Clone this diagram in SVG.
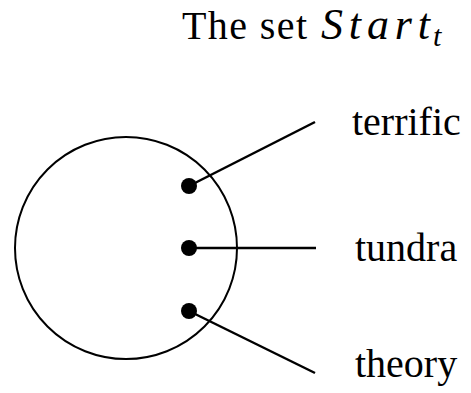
<svg xmlns="http://www.w3.org/2000/svg" width="471" height="393" viewBox="0 0 471 393">
<style>
.t{font-family:"Liberation Serif","Times New Roman",serif;font-size:40px;fill:#000}
.m{font-family:"Liberation Serif","Times New Roman",serif;font-style:italic;fill:#000}
.c{fill:none;stroke:#000;stroke-width:2}
.l{stroke:#000;stroke-width:2.5;fill:none}
.d{fill:#000}
</style>
<rect width="471" height="393" fill="#fff"/>
<g id="title">
<text class="t" x="182" y="39" textLength="125" lengthAdjust="spacing">The set</text>
<text class="m" x="321" y="39" font-size="44" textLength="109" lengthAdjust="spacing">Start</text>
<text class="m" x="433" y="46" font-size="30">t</text>
</g>
<g id="set">
<circle class="c" cx="126" cy="248" r="111"/>
</g>
<g id="connectors">
<line class="l" x1="189" y1="186" x2="315" y2="122"/>
<line class="l" x1="189" y1="248" x2="316" y2="248"/>
<line class="l" x1="189" y1="311" x2="315" y2="373"/>
</g>
<g id="dot-terrific"><circle class="d" cx="189" cy="186" r="8"/></g>
<g id="dot-tundra"><circle class="d" cx="189" cy="248" r="8"/></g>
<g id="dot-theory"><circle class="d" cx="189" cy="311" r="8"/></g>
<g id="label-terrific"><text class="t" x="352" y="135">terrific</text></g>
<g id="label-tundra"><text class="t" x="355" y="261">tundra</text></g>
<g id="label-theory"><text class="t" x="355" y="377">theory</text></g>
</svg>
